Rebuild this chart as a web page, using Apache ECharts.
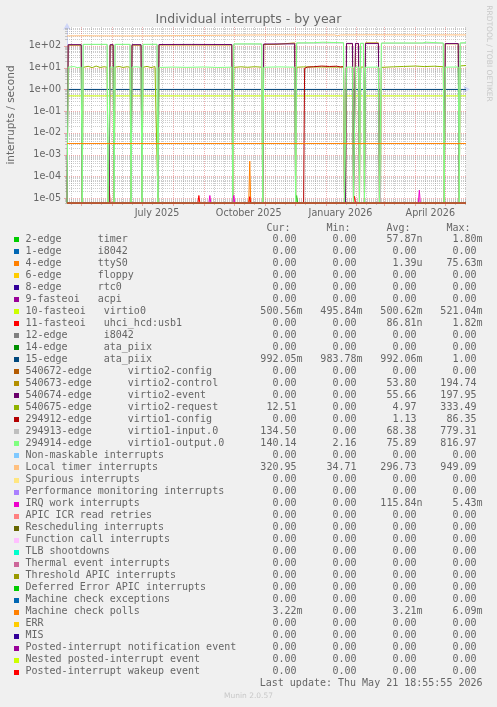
<!DOCTYPE html>
<html><head><meta charset="utf-8">
<script src="https://cdn.jsdelivr.net/npm/echarts@6/dist/echarts.min.js"></script>
<style>html,body{margin:0;padding:0;background:#F0F0F0;}#c{width:497px;height:707px;}</style>
</head><body><div id="c"></div>
<script>
// ---------- data ----------
const START = '2025-04-16 18:55:55';
const END = '2026-05-21 18:55:55';
const titleText = 'Individual interrupts - by year';
const yAxisTitle = 'interrupts / second';
const yLabelExponents = [-5, -4, -3, -2, -1, 0, 1, 2];
const xLabelDates = ['2025-07-16', '2025-10-16', '2026-01-16', '2026-04-16'];
const xLabelTexts = ['July 2025', 'October 2025', 'January 2026', 'April 2026'];
const lastUpdate = 'Last update: Thu May 21 18:55:55 2026';

const legendLabels = [
  '2-edge      timer', '1-edge      i8042', '4-edge      ttyS0', '6-edge      floppy',
  '8-edge      rtc0', '9-fasteoi   acpi', '10-fasteoi   virtio0', '11-fasteoi   uhci_hcd:usb1',
  '12-edge      i8042', '14-edge      ata_piix', '15-edge      ata_piix',
  '540672-edge      virtio2-config', '540673-edge      virtio2-control',
  '540674-edge      virtio2-event', '540675-edge      virtio2-request',
  '294912-edge      virtio1-config', '294913-edge      virtio1-input.0',
  '294914-edge      virtio1-output.0', 'Non-maskable interrupts', 'Local timer interrupts',
  'Spurious interrupts', 'Performance monitoring interrupts', 'IRQ work interrupts',
  'APIC ICR read retries', 'Rescheduling interrupts', 'Function call interrupts',
  'TLB shootdowns', 'Thermal event interrupts', 'Threshold APIC interrupts',
  'Deferred Error APIC interrupts', 'Machine check exceptions', 'Machine check polls',
  'ERR', 'MIS', 'Posted-interrupt notification event', 'Nested posted-interrupt event',
  'Posted-interrupt wakeup event'
];
const legendColors = [
  '#00CC00', '#0066B3', '#FF8000', '#FFCC00', '#330099', '#990099', '#CCFF00', '#FF0000',
  '#808080', '#008F00', '#00487D', '#B35A00', '#B38F00', '#6B006B', '#8FB300', '#B30000',
  '#BEBEBE', '#80FF80', '#80C9FF', '#FFC080', '#FFE680', '#AA80FF', '#EE00CC', '#FF8080',
  '#666600', '#FFBFFF', '#00FFCC', '#CC6699', '#999900', '#00CC00', '#0066B3', '#FF8000',
  '#FFCC00', '#330099', '#990099', '#CCFF00', '#FF0000'
];
const legendCur = ['0.00','0.00','0.00','0.00','0.00','0.00','500.56m','0.00','0.00','0.00','992.05m','0.00','0.00','0.00','12.51','0.00','134.50','140.14','0.00','320.95','0.00','0.00','0.00','0.00','0.00','0.00','0.00','0.00','0.00','0.00','0.00','3.22m','0.00','0.00','0.00','0.00','0.00'];
const legendMin = ['0.00','0.00','0.00','0.00','0.00','0.00','495.84m','0.00','0.00','0.00','983.78m','0.00','0.00','0.00','0.00','0.00','0.00','2.16','0.00','34.71','0.00','0.00','0.00','0.00','0.00','0.00','0.00','0.00','0.00','0.00','0.00','0.00','0.00','0.00','0.00','0.00','0.00'];
const legendAvg = ['57.87n','0.00','1.39u','0.00','0.00','0.00','500.62m','86.81n','0.00','0.00','992.06m','0.00','53.80','55.66','4.97','1.13','68.38','75.89','0.00','296.73','0.00','0.00','115.84n','0.00','0.00','0.00','0.00','0.00','0.00','0.00','0.00','3.21m','0.00','0.00','0.00','0.00','0.00'];
const legendMax = ['1.80m','0.00','75.63m','0.00','0.00','0.00','521.04m','1.82m','0.00','0.00','1.00','0.00','194.74','197.95','333.49','86.35','779.31','816.97','0.00','949.09','0.00','0.00','5.43m','0.00','0.00','0.00','0.00','0.00','0.00','0.00','0.00','6.09m','0.00','0.00','0.00','0.00','0.00'];

// time series: [date, value]
const zeroValues = [[START, 0], [END, 0]];
const timer2Values = [[START, 0], ['2025-12-02', 0], ['2025-12-03', 1.3e-5], ['2025-12-04', 0], [END, 0]];
const ttyS0Values = [[START, 0], ['2025-10-16', 0], ['2025-10-17', 5e-4], ['2025-10-18', 0], [END, 0]];
const virtio0Values = [[START, 0.5006], [END, 0.5006]];
const usb1Values = [[START, 0], ['2025-05-28', 0], ['2025-05-29', 3.5e-5], ['2025-05-30', 0],
  ['2025-08-26', 0], ['2025-08-27', 1.3e-5], ['2025-08-28', 0],
  ['2025-10-16', 0], ['2025-10-17', 1.15e-5], ['2025-10-18', 0],
  ['2026-01-29', 0], ['2026-01-30', 1.2e-5], ['2026-01-31', 0], [END, 0]];
const ataPiix15Values = [[START, 0.992], [END, 0.992]];
const virtio2ControlValues = [
  [START, 0], ['2025-04-17', 0], ['2025-04-18', 108], ['2025-05-01', 108], ['2025-05-02', 0],
  ['2025-05-29', 0], ['2025-05-30', 108], ['2025-06-02', 108], ['2025-06-03', 0],
  ['2025-06-20', 0], ['2025-06-21', 108], ['2025-06-30', 108], ['2025-07-01', 0],
  ['2025-07-17', 0], ['2025-07-18', 110], ['2025-09-29', 110], ['2025-09-30', 0],
  ['2025-10-30', 0], ['2025-10-31', 116], ['2025-11-12', 117], ['2025-11-13', 137], ['2025-12-01', 137], ['2025-12-02', 0],
  ['2026-01-21', 0], ['2026-01-22', 126], ['2026-01-28', 126], ['2026-01-29', 0], ['2026-01-30', 0],
  ['2026-01-31', 126], ['2026-02-03', 126], ['2026-02-04', 0],
  ['2026-02-09', 0], ['2026-02-10', 138], ['2026-02-23', 138], ['2026-02-24', 0],
  ['2026-04-30', 0], ['2026-05-01', 125], ['2026-05-14', 125], ['2026-05-15', 0], [END, 0]];
const virtio2EventValues = [
  [START, 0], ['2025-04-17', 0], ['2025-04-18', 114], ['2025-05-01', 114], ['2025-05-02', 0],
  ['2025-05-29', 0], ['2025-05-30', 114], ['2025-06-02', 114], ['2025-06-03', 0],
  ['2025-06-20', 0], ['2025-06-21', 114], ['2025-06-30', 114], ['2025-07-01', 0],
  ['2025-07-17', 0], ['2025-07-18', 116], ['2025-08-20', 117], ['2025-09-22', 116], ['2025-09-23', 106], ['2025-09-24', 116], ['2025-09-29', 116], ['2025-09-30', 0],
  ['2025-10-30', 0], ['2025-10-31', 122], ['2025-12-01', 124], ['2025-12-02', 0],
  ['2026-01-21', 0], ['2026-01-22', 130], ['2026-01-28', 130], ['2026-01-29', 0], ['2026-01-30', 0],
  ['2026-01-31', 130], ['2026-02-03', 130], ['2026-02-04', 0],
  ['2026-02-09', 0], ['2026-02-10', 128], ['2026-02-23', 128], ['2026-02-24', 0],
  ['2026-04-30', 0], ['2026-05-01', 128], ['2026-05-14', 128], ['2026-05-15', 0], [END, 0]];
const virtio2RequestValues = [
  [START, 0], ['2025-05-02', 0], ['2025-05-03', 10.3], ['2025-05-08', 11.5], ['2025-05-12', 10.0], ['2025-05-16', 11.8], ['2025-05-20', 10.2], ['2025-05-24', 11.0], ['2025-05-27', 10.4], ['2025-05-28', 0],
  ['2025-06-03', 0], ['2025-06-04', 10.5], ['2025-06-08', 11.3], ['2025-06-12', 10.2], ['2025-06-16', 11.0], ['2025-06-19', 10.4], ['2025-06-20', 0],
  ['2025-07-01', 0], ['2025-07-02', 10.4], ['2025-07-06', 11.4], ['2025-07-10', 10.1], ['2025-07-14', 11.2], ['2025-07-16', 10.5], ['2025-07-17', 0],
  ['2025-09-30', 0], ['2025-10-01', 10.3], ['2025-10-08', 10.9], ['2025-10-15', 10.4], ['2025-10-22', 11.0], ['2025-10-29', 10.5], ['2025-10-30', 0],
  ['2025-12-02', 0], ['2025-12-03', 10.4], ['2025-12-10', 10.8], ['2026-01-19', 10.6], ['2026-01-20', 0],
  ['2026-02-04', 0], ['2026-02-05', 10.5], ['2026-02-08', 10.7], ['2026-02-09', 0],
  ['2026-02-25', 0], ['2026-02-26', 10.3], ['2026-03-10', 10.9], ['2026-03-20', 11.3], ['2026-04-01', 11.8], ['2026-04-10', 11.2], ['2026-04-20', 11.6], ['2026-04-29', 11.0], ['2026-04-30', 0],
  ['2026-05-15', 0], ['2026-05-16', 12.0], [END, 12.51]];
const virtio1ConfigValues = [[START, 0], ['2025-12-10', 0], ['2025-12-11', 9.3], ['2025-12-14', 10.6], ['2025-12-20', 11.0],
  ['2025-12-28', 11.8], ['2026-01-05', 11.3], ['2026-01-12', 11.6], ['2026-01-16', 10.8], ['2026-01-19', 11.2], ['2026-01-20', 0], [END, 0]];
const virtio1InputValues = [
  [START, 0], ['2025-05-02', 0], ['2025-05-03', 116], ['2025-05-27', 116], ['2025-05-28', 0],
  ['2025-06-03', 0], ['2025-06-04', 116], ['2025-06-19', 116], ['2025-06-20', 0],
  ['2025-07-01', 0], ['2025-07-02', 116], ['2025-07-16', 116], ['2025-07-17', 0],
  ['2025-09-30', 0], ['2025-10-01', 121], ['2025-10-29', 121], ['2025-10-30', 0],
  ['2025-12-02', 0], ['2025-12-03', 134], ['2026-01-19', 137], ['2026-01-20', 0],
  ['2026-02-04', 0], ['2026-02-05', 130], ['2026-02-08', 130], ['2026-02-09', 0],
  ['2026-02-25', 0], ['2026-02-26', 133], ['2026-04-29', 133], ['2026-04-30', 0],
  ['2026-05-15', 0], ['2026-05-16', 134], [END, 134.5]];
const virtio1OutputValues = [
  [START, 0], ['2025-04-17', 0], ['2025-04-18', 10.5], ['2025-04-24', 11.2], ['2025-04-27', 10.0], ['2025-05-01', 10.6], ['2025-05-02', 0],
  ['2025-05-03', 118], ['2025-05-27', 118], ['2025-05-28', 0], ['2025-05-29', 0],
  ['2025-05-30', 10.4], ['2025-06-02', 10.8], ['2025-06-03', 0],
  ['2025-06-04', 118], ['2025-06-19', 118], ['2025-06-20', 0],
  ['2025-06-21', 10.5], ['2025-06-25', 11.0], ['2025-06-30', 10.3], ['2025-07-01', 0],
  ['2025-07-02', 118], ['2025-07-16', 119], ['2025-07-17', 0],
  ['2025-07-18', 10.2], ['2025-08-01', 10.6], ['2025-08-15', 10.3], ['2025-09-01', 10.7], ['2025-09-15', 10.2], ['2025-09-29', 10.5], ['2025-09-30', 0],
  ['2025-10-01', 123], ['2025-10-15', 124], ['2025-10-29', 123], ['2025-10-30', 0],
  ['2025-10-31', 10.4], ['2025-11-15', 10.8], ['2025-12-01', 10.5], ['2025-12-02', 0],
  ['2025-12-03', 138], ['2025-12-20', 140], ['2025-12-21', 148], ['2025-12-29', 148], ['2025-12-30', 140], ['2026-01-19', 140], ['2026-01-20', 0], ['2026-01-21', 0],
  ['2026-01-22', 10.5], ['2026-01-28', 10.7], ['2026-01-29', 0], ['2026-01-30', 0],
  ['2026-01-31', 10.5], ['2026-02-03', 10.8], ['2026-02-04', 0],
  ['2026-02-05', 132], ['2026-02-08', 132], ['2026-02-09', 0],
  ['2026-02-10', 10.4], ['2026-02-23', 10.6], ['2026-02-24', 0], ['2026-02-25', 0],
  ['2026-02-26', 136], ['2026-04-08', 137], ['2026-04-09', 148], ['2026-04-12', 148], ['2026-04-13', 137], ['2026-04-29', 136], ['2026-04-30', 0],
  ['2026-05-01', 10.5], ['2026-05-14', 10.7], ['2026-05-15', 0],
  ['2026-05-16', 138], [END, 140.14]];
const localTimerValues = [[START, 288], ['2025-05-08', 295], ['2025-05-12', 290], ['2025-06-15', 288], ['2025-07-20', 292],
  ['2025-08-20', 300], ['2025-09-20', 310], ['2025-10-15', 318], ['2025-11-20', 322], ['2026-01-10', 320],
  ['2026-01-13', 298], ['2026-01-16', 320], ['2026-02-20', 325], ['2026-04-05', 322], ['2026-04-10', 306],
  ['2026-04-14', 322], [END, 320.95]];
const irqWorkValues = [[START, 0], ['2025-09-06', 0], ['2025-09-07', 1.3e-5], ['2025-09-08', 0],
  ['2025-09-30', 0], ['2025-10-01', 1.3e-5], ['2025-10-02', 0],
  ['2026-04-04', 0], ['2026-04-05', 2.3e-5], ['2026-04-06', 0], [END, 0]];
const mcePollValues = [[START, 3.21e-3], [END, 3.21e-3]];

const seriesValues = [
  timer2Values, zeroValues, ttyS0Values, zeroValues, zeroValues, zeroValues, virtio0Values, usb1Values,
  zeroValues, zeroValues, ataPiix15Values, zeroValues, virtio2ControlValues, virtio2EventValues,
  virtio2RequestValues, virtio1ConfigValues, virtio1InputValues, virtio1OutputValues, zeroValues,
  localTimerValues, zeroValues, zeroValues, irqWorkValues, zeroValues, zeroValues, zeroValues,
  zeroValues, zeroValues, zeroValues, zeroValues, zeroValues, mcePollValues, zeroValues, zeroValues,
  zeroValues, zeroValues, zeroValues
];

// ---------- build ----------
const Y_MIN = -5.23, Y_MAX = 2.87;
const ZERO_Y = Y_MIN - 0.01;   // zero lies on the bottom edge of the log plot
const TEXT = '#666666';
const SANS = '"DejaVu Sans"';
const MONO = '"DejaVu Sans Mono"';
const GRID_MINOR = 'rgba(143,143,143,0.45)';
const GRID_MAJOR = 'rgba(222,79,79,0.45)';
const AXIS = '#CFD6F8';
function ts(s) {
  const m = s.match(/(\d+)-(\d+)-(\d+)(?: (\d+):(\d+):(\d+))?/);
  return new Date(+m[1], m[2] - 1, +m[3], +(m[4] || 0), +(m[5] || 0), +(m[6] || 0)).getTime();
}
const toY = v => v > 0 ? Math.log10(v) : ZERO_Y;
const T0 = ts(START), T1 = ts(END);

// grid line positions
const majorY = yLabelExponents.slice();
const minorY = [];
for (let e = -6; e <= 2; e++) for (let k = 2; k <= 9; k++) {
  const p = e + Math.log10(k);
  if (p > Y_MIN && p < Y_MAX) minorY.push(p);
}
const majorX = [], minorX = [];
for (let y = 2025, m = 4; ; m++) {
  if (m > 12) { m = 1; y++; }
  const mm = String(m).padStart(2, '0');
  const t1 = ts(`${y}-${mm}-01`);
  if (t1 > T0 && t1 < T1) majorX.push(t1);
  [11, 21].forEach(d => { const t = ts(`${y}-${mm}-${d}`); if (t > T0 && t < T1) minorX.push(t); });
  if (y === 2026 && m === 5) break;
}

function gridRender(params, api) {
  const cs = params.coordSys;
  const L = cs.x, R = cs.x + cs.width, T = cs.y, B = cs.y + cs.height;
  const ch = [];
  const hl = (p, color, tick) => {
    const y = Math.round(api.coord([T0, p])[1]) + 0.5;
    ch.push({ type: 'line', shape: { x1: L, y1: y, x2: R, y2: y }, style: { stroke: color, lineWidth: 1, lineDash: [1, 1] } });
    ch.push({ type: 'line', shape: { x1: L - tick, y1: y, x2: L, y2: y }, style: { stroke: color, lineWidth: 1 } });
  };
  const vl = (t, color, tick) => {
    const x = Math.round(api.coord([t, Y_MIN])[0]) + 0.5;
    ch.push({ type: 'line', shape: { x1: x, y1: T, x2: x, y2: B }, style: { stroke: color, lineWidth: 1, lineDash: [1, 1] } });
    ch.push({ type: 'line', shape: { x1: x, y1: B, x2: x, y2: B + tick }, style: { stroke: color, lineWidth: 1 } });
  };
  minorY.forEach(p => hl(p, GRID_MINOR, 2));
  minorX.forEach(t => vl(t, GRID_MINOR, 2));
  majorY.forEach(p => hl(p, GRID_MAJOR, 3));
  majorX.forEach(t => vl(t, GRID_MAJOR, 3));
  return { type: 'group', children: ch };
}

const series = [
  { type: 'custom', z: 1, silent: true, clip: false, data: [[T0, Y_MIN]], renderItem: gridRender, animation: false }
];
seriesValues.forEach((vals, i) => {
  series.push({
    type: 'line', z: 2, name: legendLabels[i], silent: true, showSymbol: false, symbol: 'none',
    lineStyle: { color: legendColors[i], width: 1 }, itemStyle: { color: legendColors[i] },
    emphasis: { disabled: true }, animation: false,
    data: vals.map(p => [ts(p[0]), toY(p[1])])
  });
});

const graphic = [];
graphic.push({ type: 'text', x: 248.5, y: 20, style: { text: titleText, fill: TEXT, fontSize: 12.5, fontFamily: SANS, align: 'center', verticalAlign: 'middle' } });
graphic.push({ type: 'text', x: 11, y: 115, rotation: Math.PI / 2, style: { text: yAxisTitle, fill: TEXT, fontSize: 10.5, fontFamily: SANS, align: 'center', verticalAlign: 'middle' } });
graphic.push({ type: 'text', x: 488.5, y: 53.5, rotation: -Math.PI / 2, style: { text: 'RRDTOOL / TOBI OETIKER', fill: '#c8c8c8', fontSize: 7.5, fontFamily: SANS, align: 'center', verticalAlign: 'middle' } });
const colRight = [302.5, 362.5, 422.5, 482.5];
['Cur:', 'Min:', 'Avg:', 'Max:'].forEach((h, c) => {
  graphic.push({ type: 'text', x: colRight[c] - 36, y: 228.3, style: { text: h, fill: TEXT, fontSize: 10, fontFamily: MONO, align: 'left', verticalAlign: 'middle' } });
});
const fmt = s => /\d$/.test(s) ? s + ' ' : s;
legendLabels.forEach((lab, i) => {
  const y = 239.3 + 12.01 * i;
  graphic.push({ type: 'rect', shape: { x: 14, y: Math.round(y) - 2, width: 5, height: 5 }, style: { fill: legendColors[i] } });
  graphic.push({ type: 'text', x: 25.5, y: y, style: { text: lab, fill: TEXT, fontSize: 10, fontFamily: MONO, align: 'left', verticalAlign: 'middle' } });
  [legendCur, legendMin, legendAvg, legendMax].forEach((arr, c) => {
    graphic.push({ type: 'text', x: colRight[c], y: y, style: { text: fmt(arr[i]), fill: TEXT, fontSize: 10, fontFamily: MONO, align: 'right', verticalAlign: 'middle' } });
  });
});
graphic.push({ type: 'text', x: 482.5, y: 683.3, style: { text: lastUpdate, fill: TEXT, fontSize: 10, fontFamily: MONO, align: 'right', verticalAlign: 'middle' } });
graphic.push({ type: 'text', x: 248.5, y: 696, style: { text: 'Munin 2.0.57', fill: '#c8c8c8', fontSize: 7.5, fontFamily: SANS, align: 'center', verticalAlign: 'middle' } });

const xLabelTs = xLabelDates.map(ts);
const option = {
  backgroundColor: '#F0F0F0',
  animation: false,
  grid: { left: 67, right: 31, top: 27, bottom: 504, show: true, backgroundColor: '#FFFFFF', borderWidth: 0 },
  xAxis: {
    type: 'value', min: T0, max: T1,
    axisLine: { show: true, lineStyle: { color: AXIS, width: 1 }, symbol: ['none', 'arrow'], symbolSize: [6, 7], symbolOffset: [0, 4] },
    axisTick: { show: false },
    axisLabel: { show: true, customValues: xLabelTs, color: TEXT, fontSize: 9.6, fontFamily: SANS, margin: 5,
      formatter: v => { const i = xLabelTs.findIndex(t => Math.abs(t - v) < 3600000); return i >= 0 ? xLabelTexts[i] : ''; } },
    splitLine: { show: false }
  },
  yAxis: {
    type: 'value', min: Y_MIN, max: Y_MAX,
    axisLine: { show: true, lineStyle: { color: AXIS, width: 1 }, symbol: ['none', 'arrow'], symbolSize: [6, 7], symbolOffset: [0, 4] },
    axisTick: { show: false },
    axisLabel: { show: true, customValues: yLabelExponents, color: TEXT, fontSize: 9.6, fontFamily: SANS, margin: 6,
      formatter: v => '1e' + (v < 0 ? '-' : '+') + String(Math.abs(Math.round(v))).padStart(2, '0') },
    splitLine: { show: false }
  },
  series: series,
  graphic: graphic
};
const chart = echarts.init(document.getElementById('c'), null, { renderer: 'canvas' });
chart.setOption(option);
</script>
</body></html>
